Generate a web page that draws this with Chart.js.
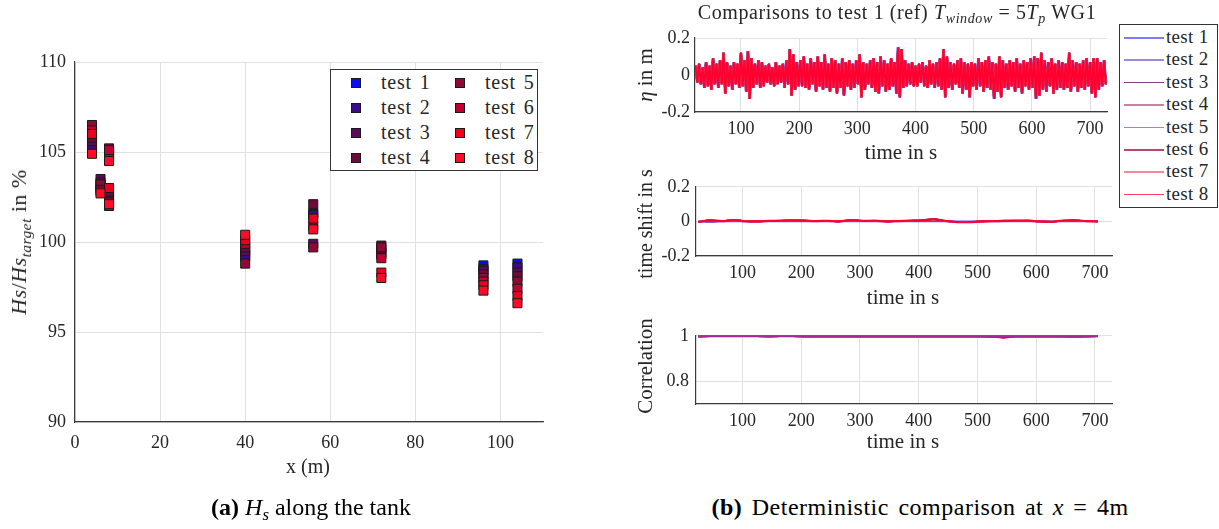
<!DOCTYPE html>
<html>
<head>
<meta charset="utf-8">
<title>Hs along the tank / deterministic comparison</title>
<script src="https://cdn.jsdelivr.net/npm/chart.js@4.4.1/dist/chart.umd.min.js"></script>
<style>
  body { margin: 0; width: 1219px; height: 529px; overflow: hidden; position: relative; background: #fff;
         font-family: "Liberation Serif", "DejaVu Serif", serif; color: #262626; }
  canvas { position: absolute; }
  .lbl { position: absolute; white-space: nowrap; transform: translate(-50%, -50%); }
  .rot { transform: translate(-50%, -50%) rotate(-90deg); }
  sub { font-size: 70%; vertical-align: -0.35em; line-height: 0; }
  .legend { position: absolute; border: 1px solid #333; background: #fff; }
  .legend div { position: absolute; white-space: nowrap; }
</style>
</head>
<body>

<canvas id="hsChart" width="560" height="470" style="left:0;top:0"></canvas>
<canvas id="etaChart" width="619" height="120" style="left:600px;top:20px"></canvas>
<canvas id="shiftChart" width="619" height="120" style="left:600px;top:170px"></canvas>
<canvas id="corrChart" width="619" height="120" style="left:600px;top:318px"></canvas>

<!-- axis titles and captions -->
<div class="lbl rot" style="left:19px;top:242px;font-size:22px;letter-spacing:0.5px"><i>Hs</i>/<i>Hs</i><sub><i>target</i></sub> in %</div>
<div class="lbl" style="left:308px;top:466px;font-size:20px">x (m)</div>

<div class="lbl" style="left:897px;top:12px;font-size:20px;letter-spacing:0.6px">Comparisons to test 1 (ref) <i>T</i><sub><i>window</i></sub> = 5<i>T</i><sub><i>p</i></sub> WG1</div>
<div class="lbl rot" style="left:645px;top:75px;font-size:21px"><i>η</i> in m</div>
<div class="lbl" style="left:901px;top:152px;font-size:21px">time in s</div>
<div class="lbl rot" style="left:645px;top:224px;font-size:20px">time shift in s</div>
<div class="lbl" style="left:903px;top:297px;font-size:21px">time in s</div>
<div class="lbl rot" style="left:645px;top:366px;font-size:21px">Correlation</div>
<div class="lbl" style="left:903px;top:441px;font-size:21px">time in s</div>

<div class="lbl" style="left:311px;top:507px;font-size:24px;color:#000"><b>(a)</b> <i>H</i><sub><i>s</i></sub> along the tank</div>
<div class="lbl" style="left:920px;top:507px;font-size:24px;color:#000;letter-spacing:0.5px;word-spacing:3px"><b>(b)</b> Deterministic comparison at <i>x</i> = 4m</div>

<div id="hsLegend" class="legend" style="left:330px;top:69px;width:206px;height:100px"></div>
<div id="lineLegend" class="legend" style="left:1119px;top:24px;width:97px;height:182px"></div>

<script>
// ---------------- data ----------------
const testNames = ['test 1', 'test 2', 'test 3', 'test 4', 'test 5', 'test 6', 'test 7', 'test 8'];

// (a) wave gauge positions along the tank (m) and Hs/Hs_target in %
const gaugeX = [4, 6, 8, 8, 40, 56, 72, 96, 104];
const hsTest1 = [105.2, 103.0, 104.9, 102.4, 99.2, 101.6, 99.4, 98.7, 98.8];
const hsTest2 = [105.4, 103.1, 105.0, 102.6, 99.3, 101.5, 99.3, 98.5, 98.6];
const hsTest3 = [105.6, 103.5, 105.1, 102.5, 99.5, 99.9, 99.6, 98.4, 98.3];
const hsTest4 = [105.8, 103.3, 105.2, 102.8, 99.7, 102.1, 99.8, 98.2, 98.1];
const hsTest5 = [106.5, 103.2, 104.8, 102.2, 98.8, 99.7, 99.7, 98.0, 97.8];
const hsTest6 = [106.2, 102.9, 105.1, 102.0, 99.9, 100.9, 99.1, 97.8, 97.4];
const hsTest7 = [106.0, 102.8, 104.6, 103.0, 100.1, 101.3, 98.3, 97.6, 97.0];
const hsTest8 = [104.9, 102.7, 104.5, 102.1, 100.4, 100.7, 98.0, 97.3, 96.6];
const hsAll = [hsTest1, hsTest2, hsTest3, hsTest4, hsTest5, hsTest6, hsTest7, hsTest8];

const xTicksHs = [0, 20, 40, 60, 80, 100];
const yTicksHs = [90, 95, 100, 105, 110];

// (b) surface elevation at WG1, peaks and troughs read every 3 s from t = 22 s
const etaStart = 22;
const etaStep = 3;
const etaValues = [
  0.05,-0.04,0.06,-0.05,0.04,-0.07,0.07,-0.06,0.05,-0.08,
  0.09,-0.05,0.06,-0.07,0.08,-0.05,0.12,-0.10,0.07,-0.06,
  0.05,-0.08,0.07,-0.05,0.06,-0.07,0.12,-0.06,0.08,-0.09,
  0.13,-0.13,0.09,-0.07,0.06,-0.05,0.08,-0.07,0.07,-0.06,
  0.05,-0.04,0.06,-0.05,0.04,-0.06,0.07,-0.05,0.05,-0.04,
  0.06,-0.07,0.08,-0.05,0.14,-0.11,0.11,-0.08,0.07,-0.06,
  0.08,-0.06,0.10,-0.07,0.06,-0.08,0.09,-0.05,0.07,-0.09,
  0.10,-0.06,0.07,-0.08,0.11,-0.07,0.06,-0.09,0.09,-0.07,
  0.08,-0.10,0.06,-0.07,0.09,-0.11,0.07,-0.06,0.08,-0.08,
  0.06,-0.07,0.08,-0.05,0.11,-0.12,0.07,-0.08,0.06,-0.05,
  0.08,-0.07,0.09,-0.09,0.07,-0.10,0.10,-0.06,0.08,-0.09,
  0.06,-0.08,0.09,-0.06,0.07,-0.10,0.15,-0.12,0.14,-0.07,
  0.08,-0.06,0.06,-0.05,0.07,-0.06,0.05,-0.06,0.06,-0.04,
  0.07,-0.06,0.05,-0.07,0.08,-0.05,0.06,-0.07,0.07,-0.06,
  0.09,-0.08,0.14,-0.12,0.10,-0.07,0.07,-0.08,0.06,-0.05,
  0.08,-0.07,0.09,-0.10,0.07,-0.08,0.06,-0.12,0.07,-0.06,
  0.06,-0.08,0.09,-0.06,0.07,-0.09,0.08,-0.07,0.10,-0.08,
  0.07,-0.13,0.06,-0.09,0.10,-0.12,0.08,-0.07,0.06,-0.08,
  0.08,-0.06,0.07,-0.09,0.09,-0.07,0.06,-0.10,0.08,-0.06,
  0.07,-0.08,0.09,-0.07,0.10,-0.13,0.09,-0.11,0.12,-0.08,
  0.08,-0.09,0.07,-0.06,0.09,-0.10,0.06,-0.08,0.08,-0.07,
  0.07,-0.08,0.06,-0.07,0.12,-0.09,0.08,-0.06,0.07,-0.09,
  0.06,-0.07,0.08,-0.08,0.09,-0.06,0.07,-0.10,0.09,-0.12,
  0.09,-0.08,0.07,-0.06,0.08,-0.05
];

// time shift and correlation windows
const windowTime = [25, 45, 65, 85, 105, 125, 145, 165, 185, 205, 225, 245, 265, 285, 305, 325, 345, 365,
                    385, 405, 425, 445, 465, 485, 505, 525, 545, 565, 585, 605, 625, 645, 665, 685, 705];
const shiftTest1 = [0, 0, 0, 0, 0, 0, 0, 0, 0, 0, 0, 0, 0, 0, 0, 0, 0, 0, 0, 0, 0, 0, 0, 0, 0, 0, 0, 0, 0, 0, 0, 0, 0, 0, 0];
const shiftTest2 = [0.000, -0.005, 0.001, 0.006, 0.000, 0.001, 0.002, 0.003, 0.005, 0.004, 0.001, 0.002, 0.001, 0.006, 0.002, 0.003, 0.001, 0.001,
                    0.003, 0.005, 0.015, 0.002, -0.003, -0.004, 0.001, 0.002, 0.005, 0.005, 0.006, 0.001, -0.001, 0.003, 0.005, 0.003, 0.000];
const shiftOthers = [-0.003, 0.006, 0.002, 0.008, 0.001, 0.000, 0.003, 0.004, 0.006, 0.005, 0.002, 0.003, 0.000, 0.008, 0.003, 0.004, 0.000, 0.002,
                     0.004, 0.006, 0.012, 0.003, -0.004, -0.005, 0.000, 0.001, 0.003, 0.004, 0.004, 0.000, -0.002, 0.004, 0.006, 0.002, 0.000];
const corrTest1 = [1, 1, 1, 1, 1, 1, 1, 1, 1, 1, 1, 1, 1, 1, 1, 1, 1, 1, 1, 1, 1, 1, 1, 1, 1, 1, 1, 1, 1, 1, 1, 1, 1, 1, 1];
const corrTest2 = [0.998, 0.998, 0.999, 0.999, 0.999, 0.998, 0.998, 0.998, 0.998, 0.998, 0.998, 0.998, 0.998, 0.998, 0.998, 0.998, 0.998, 0.998,
                   0.998, 0.998, 0.998, 0.998, 0.998, 0.998, 0.998, 0.997, 0.995, 0.998, 0.998, 0.998, 0.998, 0.998, 0.997, 0.998, 0.998];
const corrOthers = [0.997, 0.998, 0.999, 0.998, 0.999, 0.998, 0.997, 0.998, 0.998, 0.997, 0.998, 0.997, 0.998, 0.997, 0.998, 0.997, 0.998, 0.997,
                    0.997, 0.998, 0.997, 0.997, 0.997, 0.998, 0.997, 0.996, 0.993, 0.997, 0.997, 0.998, 0.997, 0.997, 0.996, 0.997, 0.998];

const timeTicks = [100, 200, 300, 400, 500, 600, 700];
const etaTicks = [-0.2, 0, 0.2];
const shiftTicks = [-0.2, 0, 0.2];
const corrTicks = [0.8, 1];

// ---------------- styles ----------------
const markerColors = ['#0a0aff', '#3c0a8c', '#5a0a5c', '#6e0a3c', '#8c0a34', '#c0002e', '#e8001e', '#ff0a28'];
const lineColors = ['#5050ff', '#8060cc', '#5a005a', '#b05a88', '#b44a78', '#a00a38', '#f06078', '#ff0030'];
const gridColor = '#e0e0e0';
const axisColor = '#3a3a3a';
const tickFont = { family: '"Liberation Serif", "DejaVu Serif", serif', size: 18 };

Chart.defaults.font.family = tickFont.family;
Chart.defaults.color = '#262626';

function setTicks(values) {
  return axis => { axis.ticks = values.map(v => ({ value: v })); };
}

// ---------------- (a) Hs along the tank ----------------
new Chart(document.getElementById('hsChart'), {
  type: 'scatter',
  data: {
    datasets: hsAll.map((vals, i) => ({
      label: testNames[i],
      data: gaugeX.map((x, j) => ({ x: x, y: vals[j] })),
      backgroundColor: markerColors[i],
      borderColor: '#1a1a1a',
      borderWidth: 1,
      pointStyle: 'rect',
      pointRadius: 6.4,
      order: 7 - i
    }))
  },
  options: {
    animation: false,
    responsive: false,
    layout: { padding: { top: 62, right: 17, left: 0, bottom: 0 } },
    plugins: { legend: { display: false }, tooltip: { enabled: false } },
    scales: {
      x: {
        type: 'linear', min: 0, max: 110,
        grid: { color: gridColor, drawTicks: false },
        border: { color: axisColor, width: 1.2 },
        ticks: { font: tickFont, padding: 10, maxRotation: 0 },
        afterBuildTicks: setTicks(xTicksHs),
        afterFit: axis => { axis.height = 48; }
      },
      y: {
        min: 90, max: 110,
        grid: { color: gridColor, drawTicks: false },
        border: { color: axisColor, width: 1.2 },
        ticks: { font: tickFont, padding: 9 },
        afterBuildTicks: setTicks(yTicksHs),
        afterFit: axis => { axis.width = 75; }
      }
    }
  }
});

// ---------------- (b) three comparison panels ----------------
function lineChart(id, datasets, yMin, yMax, yTicks, box) {
  return new Chart(document.getElementById(id), {
    type: 'line',
    data: { datasets: datasets },
    options: {
      animation: false,
      responsive: false,
      layout: { padding: { top: box.top, right: box.right, left: 0, bottom: 0 } },
      plugins: { legend: { display: false }, tooltip: { enabled: false } },
      elements: { point: { radius: 0 }, line: { tension: 0 } },
      scales: {
        x: {
          type: 'linear', min: 21, max: 729,
          grid: { color: gridColor, drawTicks: false },
          border: { color: axisColor, width: 1.2 },
          ticks: { font: tickFont, padding: 6, maxRotation: 0 },
          afterBuildTicks: setTicks(timeTicks),
          afterFit: axis => { axis.height = box.xh; }
        },
        y: {
          min: yMin, max: yMax,
          grid: { color: gridColor, drawTicks: false },
          border: { color: axisColor, width: 1.2 },
          ticks: { font: tickFont, padding: box.pad, callback: v => String(Math.round(v * 10) / 10) },
          afterBuildTicks: setTicks(yTicks),
          afterFit: axis => { axis.width = box.yw; }
        }
      }
    }
  });
}

const etaPoints = etaValues.map((v, i) => ({ x: etaStart + i * etaStep, y: v }));
lineChart('etaChart', testNames.map((name, i) => ({
  label: name,
  data: etaPoints,
  borderColor: lineColors[i],
  borderWidth: i < 2 ? 2.6 : 2,
  order: 7 - i
})), -0.2, 0.2, etaTicks, { top: 18, right: 112, xh: 28, yw: 95, pad: 5 });

const shiftSeries = [shiftTest1, shiftTest2, shiftOthers, shiftOthers, shiftOthers, shiftOthers, shiftOthers, shiftOthers];
lineChart('shiftChart', testNames.map((name, i) => ({
  label: name,
  data: windowTime.map((t, j) => ({ x: t, y: shiftSeries[i][j] })),
  borderColor: lineColors[i],
  borderWidth: i === 7 ? 2.2 : 1.6,
  cubicInterpolationMode: 'monotone',
  tension: 0.4,
  order: 7 - i
})), -0.2, 0.2, shiftTicks, { top: 14, right: 107, xh: 34, yw: 96, pad: 6 });

const corrSeries = [corrTest1, corrTest2, corrOthers, corrOthers, corrOthers, corrOthers, corrOthers, corrOthers];
lineChart('corrChart', testNames.map((name, i) => ({
  label: name,
  data: windowTime.map((t, j) => ({ x: t, y: corrSeries[i][j] })),
  borderColor: lineColors[i],
  borderWidth: i === 7 ? 2.2 : 1.6,
  clip: 4,
  order: i === 0 ? -1 : 7 - i
})), 0.7, 1, corrTicks, { top: 14, right: 107, xh: 34, yw: 96, pad: 7 });

// ---------------- legends ----------------
const hsLegend = document.getElementById('hsLegend');
testNames.forEach((name, i) => {
  const col = Math.floor(i / 4), row = i % 4;
  const sq = document.createElement('div');
  sq.style.cssText = `left:${20 + col * 104}px;top:${8 + row * 25}px;width:8px;height:8px;background:${markerColors[i]};border:1px solid #1a1a1a`;
  const txt = document.createElement('div');
  txt.style.cssText = `left:${50 + col * 104}px;top:${row * 25}px;font-size:20px;line-height:24px;letter-spacing:0.8px;word-spacing:2px`;
  txt.textContent = name;
  hsLegend.appendChild(sq);
  hsLegend.appendChild(txt);
});

const lineLegend = document.getElementById('lineLegend');
testNames.forEach((name, i) => {
  const ln = document.createElement('div');
  ln.style.cssText = `left:4px;top:${12 + i * 22.4}px;width:40px;height:1.5px;background:${lineColors[i]};opacity:0.75`;
  const txt = document.createElement('div');
  txt.style.cssText = `left:46px;top:${1 + i * 22.4}px;font-size:19px;line-height:22px;letter-spacing:0.3px`;
  txt.textContent = name;
  lineLegend.appendChild(ln);
  lineLegend.appendChild(txt);
});
</script>
</body>
</html>
